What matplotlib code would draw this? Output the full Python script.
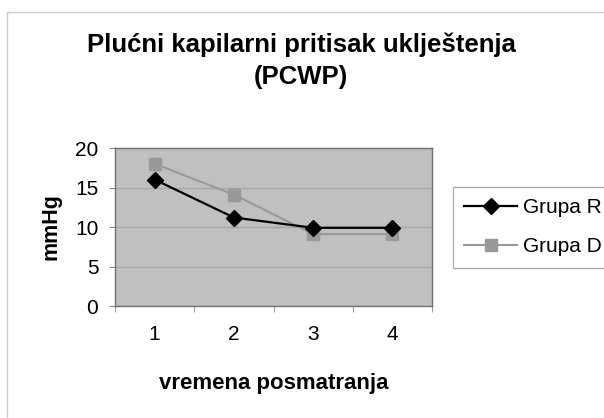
import matplotlib
matplotlib.use("Agg")
import matplotlib.pyplot as plt
from matplotlib.patches import Rectangle

plt.rcParams['font.family'] = ['Liberation Sans', 'DejaVu Sans']

title = "Plućni kapilarni pritisak uklještenja\n(PCWP)"
categories = ["1", "2", "3", "4"]
grupa_r = [16, 11.2, 9.9, 9.9]
grupa_d = [18, 14.1, 9.1, 9.1]
series_names = ["Grupa R", "Grupa D"]
yticks = [0, 5, 10, 15, 20]
xlabel = "vremena posmatranja"
ylabel = "mmHg"

W, H = 604, 418
fig = plt.figure(figsize=(W / 100, H / 100), dpi=100)
fig.patch.set_facecolor("white")

ax = fig.add_axes([115 / W, 1 - 306 / H, (432 - 115) / W, (306 - 148) / H])
ax.set_facecolor("#c0c0c0")
x = list(range(1, len(categories) + 1))
ax.plot(x, grupa_d, color="#999999", marker="s", markersize=8.5, linewidth=1.5,
        label=series_names[1], zorder=3)
ax.plot(x, grupa_r, color="#000000", marker="D", markersize=8, linewidth=1.6,
        label=series_names[0], zorder=4)

ax.set_xlim(0.5, len(categories) + 0.5)
ax.set_ylim(0, 20)
ax.set_yticks(yticks)
ax.set_yticklabels([str(v) for v in yticks], fontsize=15)
ax.set_xticks(x)
ax.set_xticklabels(categories, fontsize=15)
ax.set_xticks([i + 0.5 for i in range(len(categories) + 1)], minor=True)
ax.tick_params(axis="x", which="major", length=0, pad=14)
ax.tick_params(axis="x", which="minor", length=4, color="#888888")
ax.tick_params(axis="y", length=4, color="#888888", pad=8)
ax.yaxis.grid(True, color="#a6a6a6", linewidth=1)
ax.set_axisbelow(True)
for s in ax.spines.values():
    s.set_color("#707070")
    s.set_linewidth(1)

ax.set_xlabel(xlabel, fontsize=16, fontweight="bold")
ax.xaxis.set_label_coords(0.5, (306 - 383) / 158)
ax.xaxis.label.set_va("center")
ax.set_ylabel(ylabel, fontsize=15.5, fontweight="bold")
ax.yaxis.set_label_coords((51 - 115) / 317, 0.5)
ax.yaxis.label.set_va("center")

fig.text(301 / W, 1 - 61 / H, title, ha="center", va="center",
         fontsize=18.5, fontweight="bold", linespacing=1.4)

h, l = ax.get_legend_handles_labels()
leg = fig.legend([h[1], h[0]], [l[1], l[0]], loc="upper left",
                 bbox_to_anchor=(453 / W, 1 - 187 / H), fontsize=15,
                 frameon=True, fancybox=False, edgecolor="#999999",
                 handlelength=2.5, borderpad=0.55, labelspacing=0.95,
                 handletextpad=0.3, borderaxespad=0)
leg.get_frame().set_linewidth(1)

fig.patches.append(Rectangle((7 / W, -0.1), 2, 1.1 - 12 / H, transform=fig.transFigure,
                             fill=False, edgecolor="#cccccc", linewidth=1))

fig.savefig("out.png", dpi=100)
